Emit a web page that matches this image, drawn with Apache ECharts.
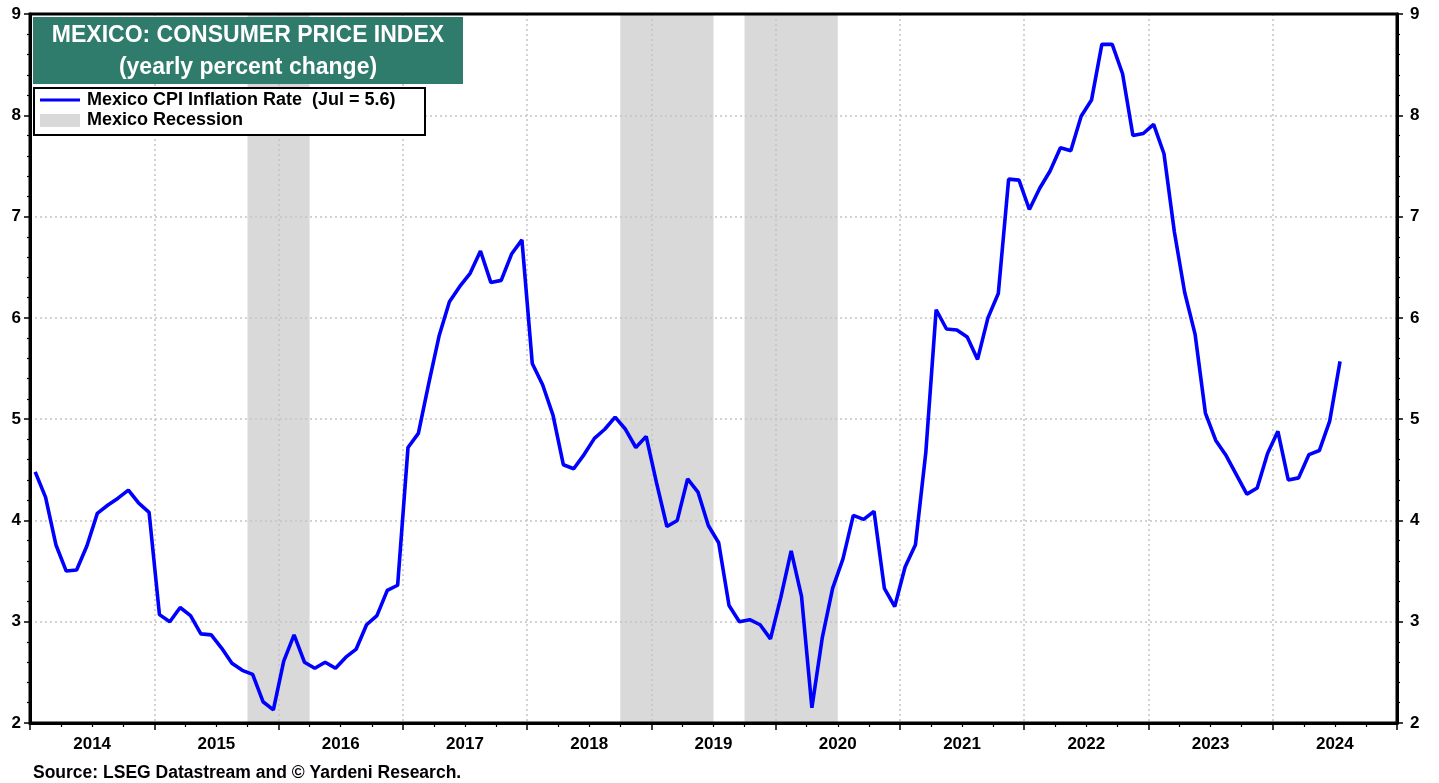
<!DOCTYPE html>
<html><head><meta charset="utf-8">
<script src="https://cdn.jsdelivr.net/npm/echarts@6/dist/echarts.min.js"></script>
<style>html,body{margin:0;padding:0;background:#fff}#c{width:1439px;height:783px}</style>
</head><body><div id="c"></div>
<script>
// ---- data ----
const startYear = 2014; // first monthly observation: Jan 2014
const yearLabels = ['2014','2015','2016','2017','2018','2019','2020','2021','2022','2023','2024'];
const cpi2014 = [4.48,4.23,3.76,3.50,3.51,3.75,4.07,4.15,4.22,4.30,4.17,4.08];
const cpi2015 = [3.07,3.00,3.14,3.06,2.88,2.87,2.74,2.59,2.52,2.48,2.21,2.13];
const cpi2016 = [2.61,2.87,2.60,2.54,2.60,2.54,2.65,2.73,2.97,3.06,3.31,3.36];
const cpi2017 = [4.72,4.86,5.35,5.82,6.16,6.31,6.44,6.66,6.35,6.37,6.63,6.77];
const cpi2018 = [5.55,5.34,5.04,4.55,4.51,4.65,4.81,4.90,5.02,4.90,4.72,4.83];
const cpi2019 = [4.37,3.94,4.00,4.41,4.28,3.95,3.78,3.16,3.00,3.02,2.97,2.83];
const cpi2020 = [3.24,3.70,3.25,2.15,2.84,3.33,3.62,4.05,4.01,4.09,3.33,3.15];
const cpi2021 = [3.54,3.76,4.67,6.08,5.89,5.88,5.81,5.59,6.00,6.24,7.37,7.36];
const cpi2022 = [7.07,7.28,7.45,7.68,7.65,7.99,8.15,8.70,8.70,8.41,7.80,7.82];
const cpi2023 = [7.91,7.62,6.85,6.25,5.84,5.06,4.79,4.64,4.45,4.26,4.32,4.66];
const cpi2024 = [4.88,4.40,4.42,4.65,4.69,4.98,5.57];
const recessions = [['2015-10','2016-03'],['2018-10','2019-06'],['2019-10','2020-06']];
const yMin = 2, yMax = 9;

const cpi = [].concat(cpi2014,cpi2015,cpi2016,cpi2017,cpi2018,cpi2019,cpi2020,cpi2021,cpi2022,cpi2023,cpi2024);
function monthStart(s){const p=s.split('-').map(Number);return p[0]+(p[1]-1)/12;}
function monthEnd(s){return monthStart(s)+1/12;}
const lineData = cpi.map((v,i)=>[startYear+(i+0.5)/12, v]);

const FONT = 'Arial, "Liberation Sans", sans-serif';
const chart = echarts.init(document.getElementById('c'), null, {renderer:'canvas'});
const dotted = {color:'#c4c4c4', type:[2,3], width:1.5};
const yAxisBase = {
  type:'value', min:yMin, max:yMax, interval:1, z:3,
  axisLine:{show:true, onZero:false, lineStyle:{color:'#000', width:3}},
  axisTick:{show:true, length:6, lineStyle:{color:'#000', width:1.5}},
  minorTick:{show:true, splitNumber:5, length:3, lineStyle:{color:'#000', width:1.2}},
  axisLabel:{color:'#000', fontWeight:'bold', fontSize:17, fontFamily:FONT}
};
chart.setOption({
  animation:false,
  grid:{left:30, right:42, top:14, bottom:60, show:true, borderColor:'#000', borderWidth:3, backgroundColor:'transparent', z:4},
  xAxis:[
    {type:'value', min:2014, max:2025, interval:1, z:3,
     axisLine:{show:true, onZero:false, lineStyle:{color:'#000', width:3}},
     axisTick:{show:true, length:7, lineStyle:{color:'#000', width:1.5}},
     minorTick:{show:true, splitNumber:4, length:4, lineStyle:{color:'#000', width:1.2}},
     axisLabel:{show:false},
     splitLine:{show:true, lineStyle:dotted}},
    {type:'value', min:0, max:22, interval:1, position:'bottom', z:3,
     axisLine:{show:false}, axisTick:{show:false}, splitLine:{show:false},
     axisLabel:{show:true, margin:13, color:'#000', fontWeight:'bold', fontSize:17, fontFamily:FONT,
       formatter:v=> (v%2===1) ? yearLabels[(v-1)/2] : ''}}
  ],
  yAxis:[
    Object.assign({}, yAxisBase, {position:'left', axisLabel:Object.assign({}, yAxisBase.axisLabel, {margin:9}), splitLine:{show:true, lineStyle:dotted}}),
    Object.assign({}, yAxisBase, {position:'right', axisLabel:Object.assign({}, yAxisBase.axisLabel, {margin:13}), splitLine:{show:false}})
  ],
  series:[
    {type:'line', xAxisIndex:0, yAxisIndex:0, data:[], z:1, silent:true,
     markArea:{silent:true, itemStyle:{color:'#d9d9d9'},
       data:recessions.map(r=>[{xAxis:monthStart(r[0])},{xAxis:monthEnd(r[1])}])}},
    {type:'line', name:'Mexico CPI Inflation Rate', xAxisIndex:0, yAxisIndex:0, data:lineData, z:5,
     symbol:'none', lineStyle:{color:'#0000ff', width:3.6}, itemStyle:{color:'#0000ff'}}
  ],
  graphic:[
    {type:'rect', z:100, shape:{x:33, y:17, width:430, height:67}, style:{fill:'#2f7b6c'}},
    {type:'text', z:101, style:{x:248, y:36, text:'MEXICO: CONSUMER PRICE INDEX', fill:'#fff', font:'bold 23px '+FONT, textAlign:'center', textVerticalAlign:'middle'}},
    {type:'text', z:101, style:{x:248, y:68, text:'(yearly percent change)', fill:'#fff', font:'bold 23px '+FONT, textAlign:'center', textVerticalAlign:'middle'}},
    {type:'rect', z:100, shape:{x:34, y:88, width:391, height:47}, style:{fill:'#fff', stroke:'#000', lineWidth:2}},
    {type:'line', z:101, shape:{x1:40, y1:100, x2:80, y2:100}, style:{stroke:'#0000ff', lineWidth:3}},
    {type:'rect', z:101, shape:{x:40, y:114, width:40, height:13}, style:{fill:'#d9d9d9'}},
    {type:'text', z:101, style:{x:87, y:100, text:'Mexico CPI Inflation Rate  (Jul = 5.6)', fill:'#000', font:'bold 18px '+FONT, textAlign:'left', textVerticalAlign:'middle'}},
    {type:'text', z:101, style:{x:87, y:120, text:'Mexico Recession', fill:'#000', font:'bold 18px '+FONT, textAlign:'left', textVerticalAlign:'middle'}},
    {type:'text', z:101, style:{x:33, y:773, text:'Source: LSEG Datastream and © Yardeni Research.', fill:'#000', font:'bold 17.5px '+FONT, textAlign:'left', textVerticalAlign:'middle'}}
  ]
});
</script></body></html>
